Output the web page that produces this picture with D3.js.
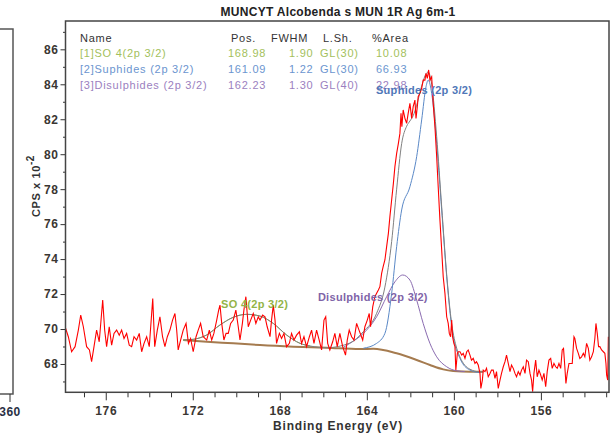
<!DOCTYPE html>
<html>
<head>
<meta charset="utf-8">
<script src="https://cdn.jsdelivr.net/npm/d3@7"></script>
<style>
  body { margin: 0; background: #fff; }
  svg { display: block; font-family: "Liberation Sans", Arial, sans-serif; }
</style>
</head>
<body>
<div id="chart"></div>
<script>
// spectrum title and axis text
const chartTitle = "MUNCYT Alcobenda s MUN 1R Ag 6m-1";
const xLabel = "Binding Energy (eV)";

// x ticks (eV) and y ticks (CPS x 10^-2)
const xMajor = [176, 172, 168, 164, 160, 156];
const xMinor = [177, 175, 174, 173, 171, 170, 169, 167, 166, 165, 163, 162, 161, 159, 158, 157, 155, 154, 153];
const yMajor = [68, 70, 72, 74, 76, 78, 80, 82, 84, 86];
const yMinor = [67, 69, 71, 73, 75, 77, 79, 81, 83, 85, 87];

// fit table
const tableHead = ["Name", "Pos.", "FWHM", "L.Sh.", "%Area"];
const compNames = ["[1]SO 4(2p 3/2)", "[2]Suphides (2p 3/2)", "[3]Disulphides (2p 3/2)"];
const compPos = ["168.98", "161.09", "162.23"];
const compFwhm = ["1.90", "1.22", "1.30"];
const compShape = ["GL(30)", "GL(30)", "GL(40)"];
const compArea = ["10.08", "66.93", "22.98"];

const rawEnergy = [177.87,177.72,177.57,177.41,177.26,177.15,177.03,176.88,176.75,176.65,176.54,176.42,176.30,176.14,176.05,175.96,175.84,175.73,175.62,175.50,175.38,175.27,175.16,175.04,174.92,174.81,174.70,174.58,174.46,174.35,174.24,174.12,174.00,173.84,173.75,173.63,173.51,173.39,173.28,173.17,173.05,172.93,172.82,172.74,172.67,172.56,172.44,172.31,172.20,172.10,171.98,171.85,171.75,171.64,171.52,171.36,171.24,171.13,171.03,170.90,170.81,170.75,170.67,170.57,170.47,170.37,170.26,170.14,170.02,169.91,169.83,169.72,169.65,169.56,169.45,169.34,169.22,169.10,168.99,168.91,168.79,168.68,168.58,168.45,168.38,168.30,168.22,168.15,168.02,167.92,167.81,167.69,167.56,167.46,167.35,167.23,167.10,167.00,166.89,166.77,166.64,166.54,166.43,166.31,166.19,166.08,165.97,165.89,165.80,165.70,165.57,165.47,165.36,165.24,165.11,164.98,164.90,164.81,164.70,164.59,164.47,164.36,
  164.19,164.09,163.98,163.89,163.83,163.73,163.63,163.55,163.47,163.40,163.32,163.25,163.17,163.09,163.01,162.94,162.86,162.78,162.71,162.63,162.55,162.48,162.43,162.39,162.33,162.25,162.17,162.10,162.02,161.94,161.87,161.79,161.74,161.68,161.64,161.56,161.48,161.41,161.33,161.28,161.22,161.16,161.10,161.02,160.95,160.87,160.79,160.72,160.64,160.56,160.49,160.41,160.33,160.26,160.21,160.15,160.10,160.06,160.00,159.95,159.91,159.84,159.80,
  159.72,159.64,159.57,159.49,159.41,159.34,159.26,159.19,159.11,159.03,158.96,158.88,158.80,158.76,158.69,158.65,158.57,158.50,158.42,158.34,158.27,158.19,158.11,158.04,157.96,157.88,157.81,157.73,157.65,157.58,157.50,157.42,157.35,157.27,157.19,157.12,157.04,156.96,156.89,156.81,156.73,156.66,156.58,156.50,156.43,156.38,156.32,156.24,156.17,156.09,156.01,155.94,155.86,155.78,155.71,155.63,155.55,155.48,155.40,155.32,155.25,155.17,155.09,155.02,154.96,154.90,154.85,154.79,154.71,154.63,154.56,154.48,154.44,154.36,154.28,154.21,154.13,154.05,153.98,153.90,153.82,153.75,153.67,153.59,153.52,153.47,153.41,153.35,153.29,153.21,153.13,153.06,153.01,152.98,152.93,152.90];
const rawCps = [70.13,69.56,68.70,68.99,69.94,70.80,70.13,68.99,68.80,68.13,68.99,69.94,69.27,71.66,69.94,68.99,70.13,69.08,69.75,69.94,69.65,69.94,69.46,69.75,69.08,68.99,69.56,69.37,69.75,68.70,69.18,69.56,68.99,71.75,68.99,69.94,70.70,69.56,68.99,69.56,69.94,70.51,70.89,69.94,68.80,69.37,69.94,70.32,69.18,69.46,68.70,69.56,69.94,70.32,69.56,69.37,69.94,69.37,69.75,70.51,71.08,71.37,70.32,69.37,69.75,69.75,70.32,70.51,71.08,70.13,69.37,70.32,71.08,71.85,70.13,70.51,70.89,70.32,70.70,70.51,70.80,70.70,70.13,69.56,70.51,71.37,70.51,69.18,69.75,69.46,69.75,68.99,69.18,69.75,69.37,69.65,69.84,69.18,69.56,68.99,69.56,69.94,69.18,69.94,69.37,68.80,70.51,70.70,69.18,68.80,69.27,69.75,68.99,69.75,68.99,68.51,69.37,69.94,69.56,69.37,70.32,69.94,
  69.37,70.13,70.51,70.89,70.13,71.27,71.85,72.04,72.23,72.42,73.18,73.57,73.95,74.71,75.47,76.43,77.38,78.33,79.29,80.05,80.62,81.19,82.34,81.57,82.53,82.05,81.77,82.34,82.91,82.05,82.72,83.10,82.05,82.72,83.29,83.48,83.77,84.24,84.24,84.63,84.34,84.82,84.24,84.43,82.91,81.57,79.86,78.14,76.23,74.52,72.99,72.04,70.70,70.32,69.75,69.56,70.51,69.56,69.18,68.99,67.65,68.61,68.70,
  68.70,68.51,68.61,68.32,68.70,68.80,68.51,68.22,68.32,68.03,68.13,67.94,67.46,66.60,67.08,67.65,67.56,67.75,67.27,67.46,67.65,67.65,67.17,67.56,66.60,67.08,67.46,67.84,68.13,68.51,68.03,67.56,67.94,67.75,67.46,67.27,67.56,67.37,67.65,67.84,67.46,68.22,68.13,67.46,67.08,66.41,67.46,68.22,67.27,67.65,67.37,67.08,67.46,66.70,67.56,68.22,68.32,67.75,68.03,67.84,67.75,68.03,67.75,68.80,68.89,67.84,66.89,67.46,68.03,68.03,68.03,69.56,69.46,68.89,68.61,68.32,68.41,68.61,68.41,69.18,68.89,68.22,68.41,68.70,69.46,70.32,69.75,68.99,68.99,68.80,68.70,68.61,68.03,67.37,67.08,69.56];

// background
const bgEnergy = [172.44, 171.36, 170.14, 168.91, 167.38, 165.85, 164.32, 163.70, 162.63, 161.71, 161.10, 160.49, 160.03, 159.26, 158.65];
const bgCps = [69.37, 69.27, 69.18, 69.08, 68.99, 68.93, 68.85, 68.87, 68.61, 68.23, 67.94, 67.69, 67.60, 67.56, 67.56];

// components (drawn on top of background)
const so4Energy = [172.44, 171.98, 171.36, 170.75, 170.14, 169.52, 168.91, 168.30, 167.69, 167.07, 166.61];
const so4Cps = [69.37, 69.41, 69.66, 70.23, 70.67, 70.84, 70.74, 70.32, 69.66, 69.18, 69.03];
const disEnergy = [165.08, 164.78, 164.16, 163.55, 163.09, 162.71, 162.35, 162.02, 161.71, 161.41, 161.10, 160.79, 160.33, 159.87, 159.50];
const disCps = [68.95, 69.18, 69.75, 70.70, 71.85, 72.70, 73.09, 72.80, 71.66, 70.32, 69.18, 68.41, 67.84, 67.61, 67.57];
const supEnergy = [164.16, 163.55, 163.17, 162.86, 162.63, 162.40, 162.02, 161.71, 161.48, 161.28, 161.18, 161.02, 160.79, 160.56, 160.33, 160.10, 159.72, 159.26, 158.80];
const supCps = [68.90, 69.18, 69.75, 72.04, 74.71, 76.81, 78.14, 79.86, 81.96, 83.86, 84.24, 83.48, 80.62, 76.81, 73.00, 70.13, 68.32, 67.65, 67.50];
const envEnergy = [172.44, 171.98, 171.36, 170.75, 170.14, 169.52, 168.91, 168.30, 167.69, 167.07, 166.61, 165.85, 164.78, 164.16, 163.55, 163.17, 162.86, 162.63, 162.40, 162.17, 162.02, 161.87, 161.71, 161.48, 161.28, 161.18, 161.02, 160.79, 160.56, 160.33, 160.10, 159.87, 159.72, 159.26, 158.80, 158.65];
const envCps = [69.37, 69.41, 69.66, 70.23, 70.67, 70.84, 70.74, 70.32, 69.66, 69.18, 69.03, 68.93, 69.20, 69.85, 70.90, 72.40, 75.00, 78.00, 80.60, 81.60, 81.90, 82.20, 82.80, 83.90, 84.60, 84.70, 84.00, 81.00, 77.00, 73.10, 70.30, 68.90, 68.40, 67.70, 67.55, 67.55];

// peak label text, anchored at the left end (energy, counts)
const peakText = ["Suphides (2p 3/2)", "Disulphides (2p 3/2)", "SO 4(2p 3/2)"];
const peakAtE = [163.58, 166.25, 170.70];
const peakAtV = [83.44, 71.61, 71.20];
const peakColor = ["#4f77b8", "#8064a8", "#93b447"];

const colors = {
    raw: "#ff0000",
    bg: "#a57b4f",
    so4: "#9bbb59",
    sup: "#5a88c6",
    dis: "#8a6bb0",
    env: "#808080",
    axis: "#333"
};
const rowColors = ["#a3bf5c", "#6b95cf", "#9b7fc0"];

const W = 613, H = 437;
const frame = { left: 65.5, right: 609, top: 21, bottom: 392.3 };

const svg = d3.select('#chart').append('svg')
    .attr('width', W)
    .attr('height', H);

const xScale = d3.scaleLinear()
    .domain([177.85, 152.87])
    .range([frame.left, frame.right]);

const yScale = d3.scaleLinear()
    .domain([66.38, 87.62])
    .range([frame.bottom, frame.top]);

// clipped part of the neighbouring panel on the left
svg.append('rect')
    .attr('x', -20).attr('y', 29)
    .attr('width', 33).attr('height', 365)
    .attr('fill', 'none')
    .attr('stroke', '#555')
    .attr('stroke-width', 1.5);
svg.append('line')
    .attr('x1', 10).attr('x2', 10)
    .attr('y1', 394).attr('y2', 402)
    .attr('stroke', '#333');
svg.append('text')
    .attr('x', 10).attr('y', 416)
    .attr('text-anchor', 'middle')
    .style('font-size', '12px').style('font-weight', 'bold')
    .style('letter-spacing', '0.5px')
    .attr('fill', '#2a3045')
    .text('360');

// title
svg.append('text')
    .attr('x', 338).attr('y', 16)
    .attr('text-anchor', 'middle')
    .style('font-size', '12px').style('font-weight', 'bold')
    .style('letter-spacing', '0.3px')
    .attr('fill', '#222')
    .text(chartTitle);

// axes
svg.append('g')
    .attr('transform', `translate(0, ${frame.bottom})`)
    .call(d3.axisBottom(xScale).tickValues(xMajor).tickSize(8).tickPadding(6).tickFormat(d3.format('d')));
svg.append('g')
    .attr('transform', `translate(0, ${frame.bottom})`)
    .call(d3.axisBottom(xScale).tickValues(xMinor).tickSize(5).tickFormat(''));

svg.append('g')
    .attr('transform', `translate(${frame.left}, 0)`)
    .call(d3.axisLeft(yScale).tickValues(yMajor).tickSize(5).tickPadding(2));
svg.append('g')
    .attr('transform', `translate(${frame.left}, 0)`)
    .call(d3.axisLeft(yScale).tickValues(yMinor).tickSize(2.5).tickFormat(''));

svg.selectAll('.domain').remove();
svg.selectAll('.tick line').attr('stroke', colors.axis).attr('stroke-width', 1);
svg.selectAll('.tick text')
    .attr('fill', '#3a3632')
    .style('font-family', '"Liberation Sans", Arial, sans-serif')
    .style('font-size', '12px')
    .style('font-weight', 'bold')
    .style('letter-spacing', '0.6px');

// axis titles
svg.append('text')
    .attr('x', 338).attr('y', 430)
    .attr('text-anchor', 'middle')
    .style('font-size', '12px').style('font-weight', 'bold')
    .style('letter-spacing', '0.8px')
    .attr('fill', '#333')
    .text(xLabel);

const yLab = svg.append('text')
    .attr('transform', 'translate(40, 186) rotate(-90)')
    .attr('text-anchor', 'middle')
    .style('font-size', '11px').style('font-weight', 'bold')
    .style('letter-spacing', '0.6px')
    .attr('fill', '#333');
yLab.append('tspan').text('CPS x 10');
yLab.append('tspan').attr('dy', -6).style('font-size', '10px').text('-2');

// clip region
svg.append('clipPath').attr('id', 'plotClip')
    .append('rect')
    .attr('x', frame.left).attr('y', frame.top)
    .attr('width', frame.right - frame.left)
    .attr('height', frame.bottom - frame.top);

const plot = svg.append('g').attr('clip-path', 'url(#plotClip)');

const zip = (xs, ys) => xs.map((e, i) => ({ e: e, v: ys[i] }));

const smoothLine = d3.line()
    .x(d => xScale(d.e))
    .y(d => yScale(d.v))
    .curve(d3.curveMonotoneX);

const rawLine = d3.line()
    .x(d => xScale(d.e))
    .y(d => yScale(d.v));

const curves = [
    [bgEnergy, bgCps, colors.bg, 2],
    [so4Energy, so4Cps, colors.so4, 1],
    [disEnergy, disCps, colors.dis, 1],
    [supEnergy, supCps, colors.sup, 1],
    [envEnergy, envCps, colors.env, 1]
];
curves.forEach(c => {
    plot.append('path')
        .datum(zip(c[0], c[1]))
        .attr('fill', 'none')
        .attr('stroke', c[2])
        .attr('stroke-width', c[3])
        .attr('d', smoothLine);
});

plot.append('path')
    .datum(zip(rawEnergy, rawCps))
    .attr('fill', 'none')
    .attr('stroke', colors.raw)
    .attr('stroke-width', 1.1)
    .attr('d', rawLine);

// frame
svg.append('rect')
    .attr('x', frame.left).attr('y', frame.top)
    .attr('width', frame.right - frame.left)
    .attr('height', frame.bottom - frame.top)
    .attr('fill', 'none')
    .attr('stroke', '#444')
    .attr('stroke-width', 1.5);

// fit table
const colX = [80, 231, 271, 323, 372];
const valX = [80, 228, 289, 320, 376];
const rowY = [42, 57, 73, 89];
const table = svg.append('g')
    .style('font-size', '11px')
    .style('letter-spacing', '0.75px');

table.selectAll('.head')
    .data(tableHead)
    .enter()
    .append('text')
    .attr('x', (d, i) => colX[i])
    .attr('y', rowY[0])
    .attr('fill', '#333')
    .text(d => d);

compNames.forEach((name, r) => {
    const cells = [name, compPos[r], compFwhm[r], compShape[r], compArea[r]];
    table.selectAll('.row' + r)
        .data(cells)
        .enter()
        .append('text')
        .attr('x', (d, i) => valX[i])
        .attr('y', rowY[r + 1])
        .attr('fill', rowColors[r])
        .text(d => d);
});

// peak labels inside plot
svg.selectAll('.peakLabel')
    .data(peakText)
    .enter()
    .append('text')
    .attr('x', (d, i) => xScale(peakAtE[i]))
    .attr('y', (d, i) => yScale(peakAtV[i]))
    .style('font-size', '11px')
    .style('font-weight', 'bold')
    .style('letter-spacing', '0.3px')
    .attr('fill', (d, i) => peakColor[i])
    .text(d => d);
</script>
</body>
</html>
